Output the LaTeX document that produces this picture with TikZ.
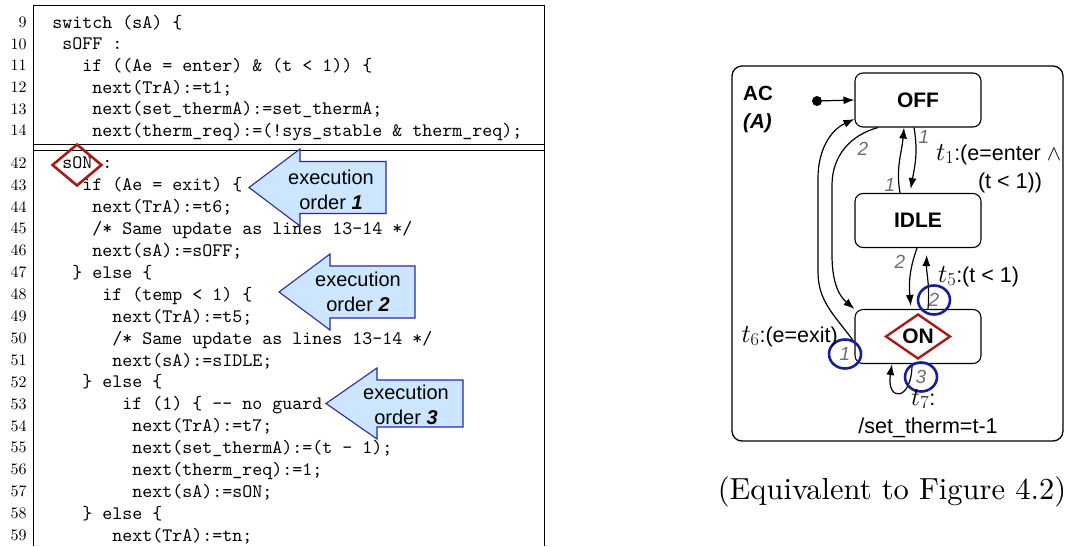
\RequirePackage{fix-cm}
\documentclass[tikz,border=0pt]{standalone}
\usepackage{fontspec}
\setsansfont{Liberation Sans}
\usetikzlibrary{shapes.geometric,arrows.meta,calc}

\definecolor{dkred}{RGB}{165,30,22}
\definecolor{cblue}{RGB}{22,32,150}
\definecolor{cfill}{RGB}{204,230,255}
\definecolor{cedge}{RGB}{45,40,160}
\definecolor{lblgray}{RGB}{110,110,110}

\newcommand{\tsub}[1]{{\fontsize{26}{26}\selectfont$t_{#1}$}}

\begin{document}
\begin{tikzpicture}[x=1pt,y=1pt,
  code/.style={anchor=mid west,inner sep=0pt,scale=1.905,font=\ttfamily\fontsize{10}{12}\selectfont},
  lnum/.style={anchor=mid east,inner sep=0pt,scale=1.6,font=\fontsize{10}{12}\selectfont},
  frame/.style={line width=1pt},
  callout/.style={draw=cedge,fill=cfill,line width=1.1pt,line join=miter},
  ctext/.style={align=center,inner sep=0pt,font=\sffamily\fontsize{20}{25}\selectfont},
  state/.style={draw,rounded corners=8pt,minimum width=126pt,minimum height=54pt,line width=1.1pt,font=\sffamily\bfseries\fontsize{21}{21}\selectfont},
  tr/.style={-{Latex[length=11pt,width=8pt]},line width=1.2pt},
  lbl/.style={inner sep=0pt,text=lblgray,font=\sffamily\itshape\fontsize{19}{19}\selectfont},
  numc/.style={ellipse,draw=cblue,line width=2.6pt,minimum width=32pt,minimum height=29pt,inner sep=0pt,text=lblgray,font=\sffamily\itshape\fontsize{19}{19}\selectfont},
  tl/.style={inner sep=0pt,font=\sffamily\fontsize{21.5}{24}\selectfont}]
\useasboundingbox (0,0) rectangle (1073,-546);

% code listing
\draw[frame] (33,-546) -- (33,-5) -- (544,-5) -- (544,-546);
\draw[frame] (33,-144) -- (544,-144) (33,-150) -- (544,-150);
\begin{scope}[yshift=-1.5pt]
\node[lnum] (n9) at (27,-22.7) {9};
\node[lnum] (n10) at (27,-44.3) {10};
\node[lnum] (n11) at (27,-65.9) {11};
\node[lnum] (n12) at (27,-87.5) {12};
\node[lnum] (n13) at (27,-109.1) {13};
\node[lnum] (n14) at (27,-130.7) {14};
\node[code] (c9) at (52,-22.7) {switch (sA) \{};
\node[code] (c10) at (62,-44.3) {sOFF :};
\node[code] (c11) at (82,-65.9) {if ((Ae = enter) \& (t < 1)) \{};
\node[code] (c12) at (92,-87.5) {next(TrA):=t1;};
\node[code] (c13) at (92,-109.1) {next(set\_thermA):=set\_thermA;};
\node[code] (c14) at (92,-130.7) {next(therm\_req):=(!sys\_stable \& therm\_req);};
\node[lnum] (n42) at (27,-163.3) {42};
\node[lnum] (n43) at (27,-185.2) {43};
\node[lnum] (n44) at (27,-207.1) {44};
\node[lnum] (n45) at (27,-229) {45};
\node[lnum] (n46) at (27,-250.9) {46};
\node[lnum] (n47) at (27,-272.8) {47};
\node[lnum] (n48) at (27,-294.7) {48};
\node[lnum] (n49) at (27,-316.6) {49};
\node[lnum] (n50) at (27,-338.5) {50};
\node[lnum] (n51) at (27,-360.4) {51};
\node[lnum] (n52) at (27,-382.3) {52};
\node[lnum] (n53) at (27,-404.2) {53};
\node[lnum] (n54) at (27,-426.1) {54};
\node[lnum] (n55) at (27,-448) {55};
\node[lnum] (n56) at (27,-469.9) {56};
\node[lnum] (n57) at (27,-491.8) {57};
\node[lnum] (n58) at (27,-513.7) {58};
\node[lnum] (n59) at (27,-535.6) {59};
\node[code] (c42) at (62,-163.3) {sON :};
\node[code] (c43) at (82,-185.2) {if (Ae = exit) \{};
\node[code] (c44) at (92,-207.1) {next(TrA):=t6;};
\node[code] (c45) at (92,-229) {/* Same update as lines 13-14 */};
\node[code] (c46) at (92,-250.9) {next(sA):=sOFF;};
\node[code] (c47) at (72,-272.8) {\} else \{};
\node[code] (c48) at (102,-294.7) {if (temp < 1) \{};
\node[code] (c49) at (112,-316.6) {next(TrA):=t5;};
\node[code] (c50) at (112,-338.5) {/* Same update as lines 13-14 */};
\node[code] (c51) at (112,-360.4) {next(sA):=sIDLE;};
\node[code] (c52) at (82,-382.3) {\} else \{};
\node[code] (c53) at (122,-404.2) {if (1) \{ -{}- no guard};
\node[code] (c54) at (132,-426.1) {next(TrA):=t7;};
\node[code] (c55) at (132,-448) {next(set\_thermA):=(t - 1);};
\node[code] (c56) at (132,-469.9) {next(therm\_req):=1;};
\node[code] (c57) at (132,-491.8) {next(sA):=sON;};
\node[code] (c58) at (82,-513.7) {\} else \{};
\node[code] (c59) at (112,-535.6) {next(TrA):=tn;};
\end{scope}
\node[diamond,draw=dkred,line width=2.6pt,minimum width=50pt,minimum height=42pt,inner sep=0pt] (sondia) at (77,-165) {};

% execution order callouts
\draw[callout] (249,-187.5) -- (300,-149) -- (300,-161.5) -- (386,-161.5) -- (386,-213.5) -- (300,-213.5) -- (300,-226) -- cycle;
\node[ctext] (exec1) at (331,-189.5) {execution\\order \textbf{\textit{1}}};
\draw[callout] (279,-292) -- (330,-254) -- (330,-266) -- (415,-266) -- (415,-318) -- (330,-318) -- (330,-330) -- cycle;
\node[ctext] (exec2) at (358,-291.5) {execution\\order \textbf{\textit{2}}};
\draw[callout] (326,-403.5) -- (377,-368) -- (377,-380) -- (463,-380) -- (463,-427) -- (377,-427) -- (377,-439) -- cycle;
\node[ctext] (exec3) at (406,-405) {execution\\order \textbf{\textit{3}}};

% statechart
\draw[rounded corners=10pt,line width=1.3pt] (732,-66) rectangle (1063,-441);
\node[anchor=base west,inner sep=0pt,font=\sffamily\bfseries\fontsize{20.5}{20.5}\selectfont] (ac) at (743,-100) {AC};
\node[anchor=base west,inner sep=0pt,font=\sffamily\bfseries\itshape\fontsize{20.5}{20.5}\selectfont] (acA) at (743,-128) {(A)};
\node[state] (off) at (918,-100) {OFF};
\node[state] (idle) at (918,-220.5) {IDLE};
\node[state] (on) at (918,-336.5) {};
\node[diamond,aspect=1.45,draw=dkred,line width=2.4pt,minimum width=65pt,minimum height=45pt,inner sep=0pt,font=\sffamily\bfseries\fontsize{21}{21}\selectfont] (ondia) at (on) {ON};
\node[circle,fill,inner sep=0pt,minimum size=10pt] (init) at (817,-101) {};
\draw[tr] (init) -- (off.west);

\draw[tr,shorten >=4pt] ($(off.south)+(-4,0)$) to[out=-80,in=80] ($(idle.north)+(-8,0)$);
\draw[tr] ($(idle.north)+(-18,0)$) to[out=100,in=-95] ($(off.south)+(-14,0)$);
\draw[tr] ($(off.south)+(-40,0)$) to[out=-165,in=90] (832,-185) -- (832,-255) to[out=-90,in=140] (on.north west);
\draw[tr] ($(on.west)+(0,-6)$) to[out=125,in=-90] (818,-272) -- (818,-178) to[out=90,in=-155] ($(off.west)+(0,-19)$);
\draw[tr,shorten >=3pt] ($(idle.south)+(-1,0)$) to[out=-110,in=95] ($(on.north)+(-7,0)$);
\draw[tr,shorten >=7pt] ($(on.north)+(10,0)$) to[out=85,in=-92] ($(idle.south)+(9,0)$);
\draw[tr] ($(on.south)+(-6,0)$) .. controls +(0,-38) and +(-6,-38) .. ($(on.south)+(-26,0)$);

\node[lbl] (g1a) at (924,-137) {1};
\node[lbl] (g1b) at (890,-185) {1};
\node[lbl] (g2a) at (863,-149) {2};
\node[lbl] (g2b) at (900,-262) {2};
\node[numc] (k2) at (934,-300) {2};
\node[numc] (k1) at (845,-354) {1};
\node[numc] (k3) at (921,-377) {3};

\node[tl,anchor=base west] (t1) at (936,-160) {\tsub{1}:(e=enter $\wedge$};
\node[tl,anchor=base] (t1b) at (1010,-188) {(t < 1))};
\node[tl,anchor=base west] (t5) at (938,-282) {\tsub{5}:(t < 1)};
\node[tl,anchor=base east] (t6) at (838,-342) {\tsub{6}:(e=exit)};
\node[tl,anchor=base west] (t7) at (911,-405) {\tsub{7}:};
\node[tl,anchor=base] (t7b) at (928,-433) {/set\_therm=t-1};

\node[scale=3.05] (cap) at (892,-492) {(Equivalent to Figure 4.2)};
\end{tikzpicture}
\end{document}
